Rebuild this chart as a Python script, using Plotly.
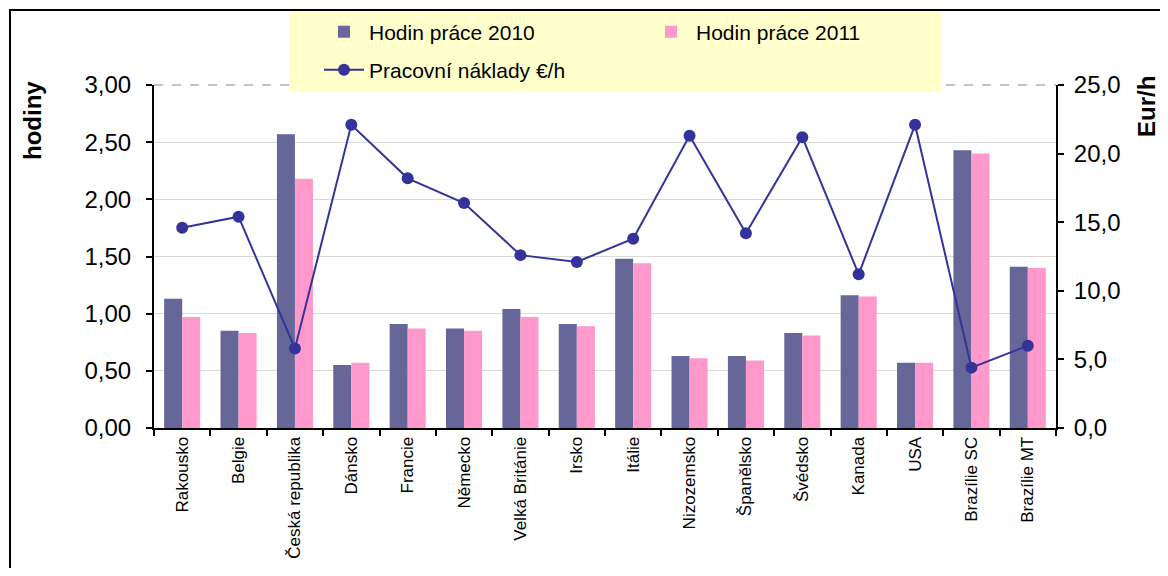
import plotly.graph_objects as go

countries = ["Rakousko", "Belgie", "Česká republika", "Dánsko", "Francie", "Německo",
             "Velká Británie", "Irsko", "Itálie", "Nizozemsko", "Španělsko", "Švédsko",
             "Kanada", "USA", "Brazílie SC", "Brazílie MT"]
hours_2010 = [1.13, 0.85, 2.57, 0.55, 0.91, 0.87, 1.04, 0.91, 1.48, 0.63, 0.63, 0.83,
              1.16, 0.57, 2.43, 1.41]
hours_2011 = [0.97, 0.83, 2.18, 0.57, 0.87, 0.85, 0.97, 0.89, 1.44, 0.61, 0.59, 0.81,
              1.15, 0.57, 2.40, 1.40]
labour_cost = [14.6, 15.4, 5.8, 22.1, 18.2, 16.4, 12.6, 12.1, 13.8, 21.3, 14.2, 21.2,
               11.2, 22.1, 4.4, 6.0]

FONT = "Liberation Sans, Arial, sans-serif"

# the page body adds an 8px margin on every side
OFF = 8
W, H = 1168 - 2 * OFF, 576 - 2 * OFF
# plot area in reference-screen pixels
L, R, T, B = 154, 1056, 85, 428


def px(x):
    return (x - L) / (R - L)


def py(y):
    return (B - y) / (B - T)


def cx(x):
    return (x - OFF) / W


def cy(y):
    return 1 - (y - OFF) / H


fig = go.Figure()
fig.add_trace(go.Bar(x=countries, y=hours_2010, name="Hodin práce 2010",
                     marker=dict(color="#666699", line=dict(width=0))))
fig.add_trace(go.Bar(x=countries, y=hours_2011, name="Hodin práce 2011",
                     marker=dict(color="#FF99CC", line=dict(width=0))))
fig.add_trace(go.Scatter(x=countries, y=labour_cost, name="Pracovní náklady €/h",
                         yaxis="y2", mode="lines+markers", legend="legend2",
                         line=dict(color="#333399", width=2),
                         marker=dict(color="#333399", size=12)))

legend_common = dict(orientation="h", xanchor="left", yanchor="middle",
                     xref="container", yref="container", bgcolor="rgba(0,0,0,0)",
                     font=dict(family=FONT, size=21, color="black"),
                     traceorder="normal", itemwidth=40)

fig.update_layout(
    width=W, height=H,
    margin=dict(l=L - OFF, r=W - (R - OFF), t=T - OFF, b=H - (B - OFF), pad=0,
                autoexpand=False),
    paper_bgcolor="white", plot_bgcolor="white",
    separators=", ",
    font=dict(family=FONT, size=20, color="black"),
    barmode="group", bargap=0.36, bargroupgap=0,
    showlegend=True,
    legend=dict(x=cx(319), y=cy(32), entrywidth=272, entrywidthmode="pixels",
                **legend_common),
    legend2=dict(x=cx(319), y=cy(70), **legend_common),
    xaxis=dict(range=[-0.5, len(countries) - 0.5], showline=True, linecolor="black",
               linewidth=2, ticks="outside", tickson="boundaries", ticklen=6,
               tickwidth=2, tickcolor="black", tickangle=-90,
               tickfont=dict(family=FONT, size=17, color="black"),
               showgrid=False, mirror=False),
    yaxis=dict(range=[0, 3], dtick=0.5, tickformat=".2f", showline=True,
               linecolor="black", linewidth=2, ticks="outside", ticklen=6, tickwidth=2,
               tickcolor="black", showgrid=True, gridcolor="#D9D9D9", gridwidth=1,
               zeroline=False, ticklabelstandoff=10,
               tickfont=dict(family=FONT, size=24, color="black")),
    yaxis2=dict(range=[0, 25], dtick=5, tickformat=".1f", overlaying="y", side="right",
                showline=True, linecolor="black", linewidth=2, ticks="outside",
                ticklen=6, tickwidth=2, tickcolor="black", showgrid=False,
                zeroline=False, ticklabelstandoff=5,
                tickfont=dict(family=FONT, size=24, color="black")),
    shapes=[
        # outer chart frame
        dict(type="rect", xref="paper", yref="paper", x0=px(10), y0=py(620),
             x1=px(1220), y1=py(10), line=dict(color="black", width=2),
             fillcolor="rgba(0,0,0,0)", layer="above"),
        # dashed top border of plot area
        dict(type="line", xref="paper", yref="paper", x0=0, x1=1, y0=1, y1=1,
             line=dict(color="#B0B0B0", width=1.5, dash="dash"), layer="below"),
        # legend background
        dict(type="rect", xref="paper", yref="paper", x0=px(289), x1=px(942),
             y0=py(92), y1=py(12), fillcolor="#FFFFCC", line=dict(width=0),
             layer="below"),
    ],
    annotations=[
        dict(text="<b>hodiny</b>", xref="paper", yref="paper", x=px(32), y=py(121),
             textangle=-90, showarrow=False, xanchor="center", yanchor="middle",
             font=dict(family=FONT, size=24, color="black")),
        dict(text="<b>Eur/h</b>", xref="paper", yref="paper", x=px(1146), y=py(107),
             textangle=-90, showarrow=False, xanchor="center", yanchor="middle",
             font=dict(family=FONT, size=24, color="black")),
    ],
)

fig.write_html("out.html")
